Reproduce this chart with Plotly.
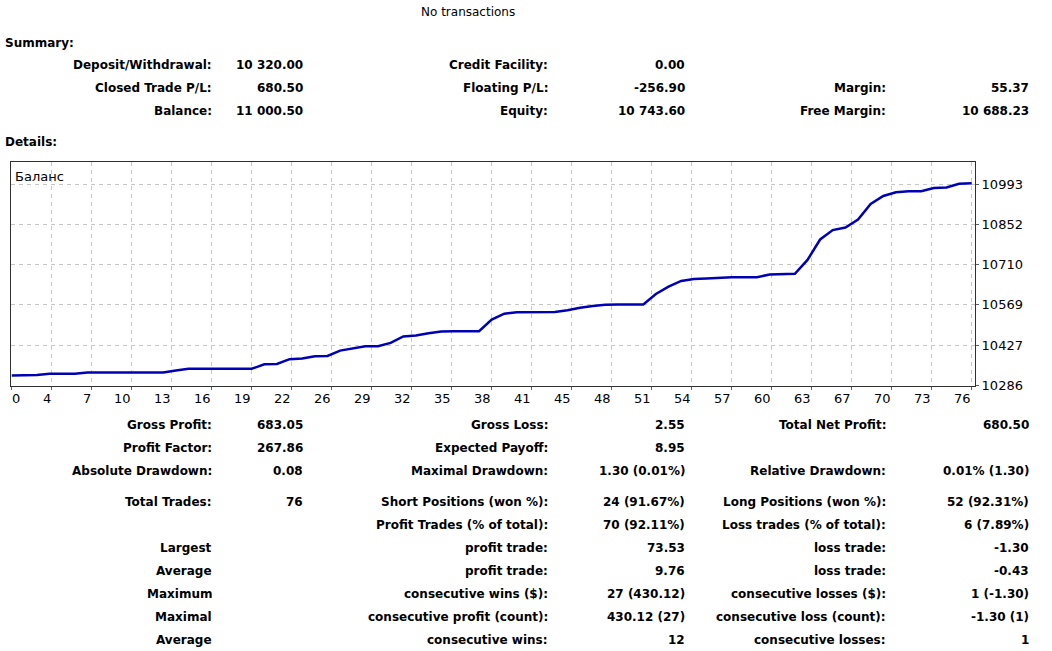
import plotly.graph_objects as go

W, H = 1052, 651
H_EFF = 644  # vertical pixel span the page's paper occupies in the final picture

# ---------------- data ----------------
trade_index = list(range(77))
balance = [10320, 10320, 10322, 10326.5, 10326.5, 10326.5, 10331, 10331, 10331, 10331,
           10331, 10331, 10331, 10338, 10344, 10344, 10344, 10344, 10344, 10344,
           10360, 10361, 10378, 10380, 10388, 10389, 10408, 10416, 10423, 10423,
           10435, 10458, 10461, 10469, 10475, 10476, 10476, 10476, 10517, 10538,
           10543, 10544, 10544, 10544, 10550, 10559, 10565, 10569, 10570, 10570,
           10570, 10607, 10633, 10653, 10660, 10661.5, 10665, 10666, 10666, 10666,
           10676, 10678, 10678, 10727, 10799, 10832, 10841, 10869, 10924, 10952,
           10965, 10969, 10969, 10980, 10982, 10995, 10997]

x_tick_labels = ["0", "4", "7", "10", "13", "16", "19", "22", "26", "29", "32", "35", "38",
                 "41", "45", "48", "51", "54", "57", "60", "63", "67", "70", "73", "76"]
y_tick_vals = [10286.0, 10427.4, 10568.8, 10710.2, 10851.6, 10993.0]
y_tick_labels = ["10286", "10427", "10569", "10710", "10852", "10993"]

title_text = "No transactions"
summary_rows = [
    ["Deposit/Withdrawal:", "10 320.00", "Credit Facility:", "0.00", "", ""],
    ["Closed Trade P/L:", "680.50", "Floating P/L:", "-256.90", "Margin:", "55.37"],
    ["Balance:", "11 000.50", "Equity:", "10 743.60", "Free Margin:", "10 688.23"],
]
detail_rows = [
    ["Gross Profit:", "683.05", "Gross Loss:", "2.55", "Total Net Profit:", "680.50"],
    ["Profit Factor:", "267.86", "Expected Payoff:", "8.95", "", ""],
    ["Absolute Drawdown:", "0.08", "Maximal Drawdown:", "1.30 (0.01%)", "Relative Drawdown:", "0.01% (1.30)"],
    ["Total Trades:", "76", "Short Positions (won %):", "24 (91.67%)", "Long Positions (won %):", "52 (92.31%)"],
    ["", "", "Profit Trades (% of total):", "70 (92.11%)", "Loss trades (% of total):", "6 (7.89%)"],
    ["Largest", "", "profit trade:", "73.53", "loss trade:", "-1.30"],
    ["Average", "", "profit trade:", "9.76", "loss trade:", "-0.43"],
    ["Maximum", "", "consecutive wins ($):", "27 (430.12)", "consecutive losses ($):", "1 (-1.30)"],
    ["Maximal", "", "consecutive profit (count):", "430.12 (27)", "consecutive loss (count):", "-1.30 (1)"],
    ["Average", "", "consecutive wins:", "12", "consecutive losses:", "1"],
]

# ---------------- layout helpers ----------------
summary_y = [65, 88, 111]
detail_y = [425, 448, 471, 502, 525, 548, 571, 594, 617, 640]
col_right = [212, 303, 548, 685, 886, 1029]

FONT = "DejaVu Sans, Verdana, sans-serif"
x_max = 76
x_range = [-0.03, 76.26]
y_range = [10284.5, 11070.5]

def px(x):
    return x / W

def py(y):
    return 1 - y / H_EFF

fig = go.Figure()
fig.add_trace(go.Scatter(
    x=trade_index, y=balance, mode="lines",
    line=dict(color="#0000b4", width=2.5),
    hoverinfo="skip", showlegend=False,
))

annotations = []

def txt(x, y, s, anchor="right", bold=True, size=12):
    annotations.append(dict(
        x=x, y=py(y), xref="paper", yref="paper", text=("<b>%s</b>" % s) if bold else s,
        showarrow=False, xanchor=anchor, yanchor="middle",
        font=dict(family=FONT, size=size, color="#000000"),
        borderpad=0, borderwidth=0,
    ))

txt(px(468), 12, title_text, anchor="center", bold=False, size=12)
txt(px(5), 43, "Summary:", anchor="left")
txt(px(5), 142, "Details:", anchor="left")

for rows, ys in ((summary_rows, summary_y), (detail_rows, detail_y)):
    for row, y in zip(rows, ys):
        for s, xr in zip(row, col_right):
            if s:
                txt(px(xr), y, s)

# chart caption
txt(px(15), 176, "Баланс", anchor="left", bold=False, size=13)

# x tick labels (right-aligned to the tick, first one left-aligned)
n = len(x_tick_labels) - 1
x_tick_vals = [x_max * k / n for k in range(n + 1)]
for k, (v, lab) in enumerate(zip(x_tick_vals, x_tick_labels)):
    annotations.append(dict(
        x=v, y=py(398), xref="x", yref="paper", text=lab, showarrow=False,
        xanchor="left" if k == 0 else "right", yanchor="middle",
        xshift=0 if k == 0 else -1,
        font=dict(family=FONT, size=13, color="#000000"),
        borderpad=0, borderwidth=0,
    ))

grid = dict(showgrid=True, gridcolor="#c8c8c8", gridwidth=1, griddash="4px,4px")

fig.update_layout(
    width=W, height=H, autosize=False,
    margin=dict(l=0, r=0, t=0, b=0),
    paper_bgcolor="white", plot_bgcolor="white",
    showlegend=False,
    xaxis=dict(
        domain=[11.3 / W, 975 / W], range=x_range,
        tickmode="array", tickvals=x_tick_vals, ticktext=x_tick_labels,
        showticklabels=False, ticks="outside", ticklen=3, tickcolor="#606060",
        showline=True, mirror=True, linecolor="#303030", linewidth=1,
        zeroline=False, fixedrange=True, **grid,
    ),
    yaxis=dict(
        domain=[1 - 385.7 / H_EFF, 1 - 162.3 / H_EFF], range=y_range, side="right",
        tickmode="array", tickvals=y_tick_vals, ticktext=y_tick_labels,
        ticks="outside", ticklen=3, tickcolor="#606060",
        tickfont=dict(family=FONT, size=13, color="#000000"),
        showline=True, mirror=True, linecolor="#303030", linewidth=1,
        zeroline=False, fixedrange=True, **grid,
    ),
    annotations=annotations,
)

fig.write_html("out.html", config={"responsive": False})
